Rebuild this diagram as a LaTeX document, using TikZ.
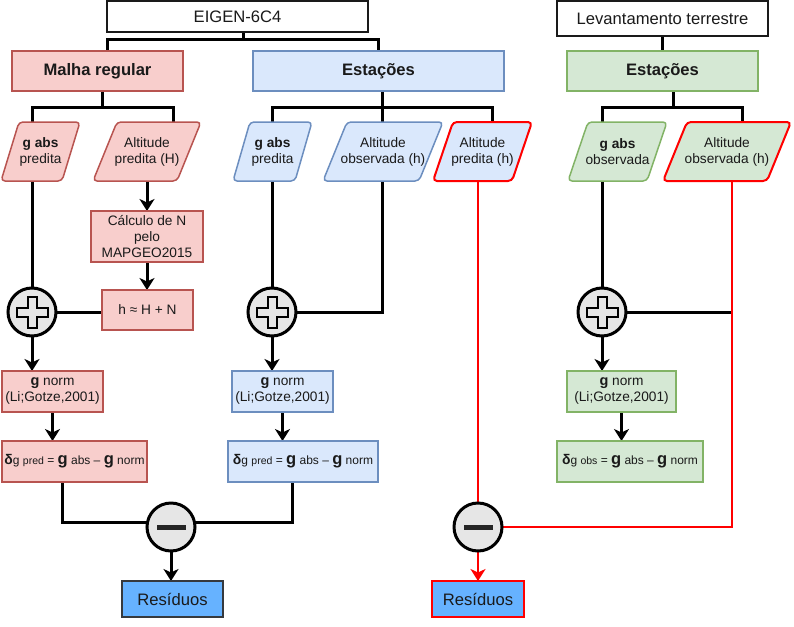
\documentclass[tikz,border=0pt]{standalone}
\usepackage{fontspec}
\setmainfont{Liberation Sans}
\usetikzlibrary{arrows.meta,backgrounds}
\definecolor{pinkF}{HTML}{F8CECC}
\definecolor{pinkD}{HTML}{B85450}
\definecolor{blueF}{HTML}{DAE8FC}
\definecolor{blueD}{HTML}{6C8EBF}
\definecolor{greenF}{HTML}{D5E8D4}
\definecolor{greenD}{HTML}{82B366}
\definecolor{resF}{HTML}{66B2FF}
\definecolor{resD}{HTML}{36393D}
\definecolor{cgray}{HTML}{E6E6E6}
\definecolor{txtc}{HTML}{1A1A1A}
\newcommand{\fsmallx}{\fontsize{13.7}{16}\selectfont}
\newcommand{\fbigx}{\fontsize{16.6}{19}\selectfont}
\newcommand{\deltatext}[1]{{\fontsize{14}{16}\selectfont\bfseries δ}{\fontsize{12}{14}\selectfont g {\fontsize{10.5}{12}\selectfont #1} = {\fontsize{16.5}{18}\selectfont\bfseries g} abs – {\fontsize{16.5}{18}\selectfont\bfseries g} norm}}
\newcommand{\gnormtext}{{\fontsize{14.5}{16}\selectfont\bfseries g} norm\\(Li;Gotze,2001)}
\tikzset{
  basebox/.style={rectangle, inner sep=0pt, outer sep=0pt, align=center, text=txtc},
  topbox/.style={basebox, draw=txtc, line width=2pt, fill=white, font=\fbigx},
  headP/.style={basebox, draw=pinkD, fill=pinkF, line width=1.5pt, font=\fbigx\bfseries},
  headB/.style={basebox, draw=blueD, fill=blueF, line width=1.5pt, font=\fbigx\bfseries},
  headG/.style={basebox, draw=greenD, fill=greenF, line width=1.5pt, font=\fbigx\bfseries},
  boxP/.style={basebox, draw=pinkD, fill=pinkF, line width=1.5pt, font=\fsmallx},
  boxB/.style={basebox, draw=blueD, fill=blueF, line width=1.5pt, font=\fsmallx},
  boxG/.style={basebox, draw=greenD, fill=greenF, line width=1.5pt, font=\fsmallx},
  resbox/.style={basebox, draw=resD, fill=resF, line width=2pt, font=\fbigx, minimum width=101pt, minimum height=36pt},
  paraP/.style={draw=pinkD, fill=pinkF, line width=1.5pt, rounded corners=4pt},
  paraB/.style={draw=blueD, fill=blueF, line width=1.5pt, rounded corners=4pt},
  paraG/.style={draw=greenD, fill=greenF, line width=1.5pt, rounded corners=4pt},
  paraRB/.style={draw=red, fill=blueF, line width=2pt, rounded corners=4pt},
  paraRG/.style={draw=red, fill=greenF, line width=2pt, rounded corners=4pt},
  ptext/.style={basebox, font=\fsmallx},
  circ/.style={circle, draw=black, line width=3pt, fill=cgray, minimum size=48pt, inner sep=0pt, outer sep=0pt},
  bus/.style={line width=3pt, draw=black},
  arr/.style={bus, -{Stealth[length=12pt,width=15pt,inset=3.5pt]}},
  redl/.style={line width=2.5pt, draw=red},
  redarr/.style={redl, -{Stealth[length=12pt,width=15pt,inset=3.5pt]}},
}
\newcommand{\pgram}[4]{\draw[#1] (#2,181) -- (#3,181) -- ({#3+#4},122) -- ({#2+#4},122) -- cycle;}
\newcommand{\plusmark}[1]{\draw[line width=2pt, draw=black, fill=cgray, shift={(#1)}] (-4.5,-15.5) -- (4.5,-15.5) -- (4.5,-4.5) -- (15.5,-4.5) -- (15.5,4.5) -- (4.5,4.5) -- (4.5,15.5) -- (-4.5,15.5) -- (-4.5,4.5) -- (-15.5,4.5) -- (-15.5,-4.5) -- (-4.5,-4.5) -- cycle;}
\newcommand{\minusmark}[1]{\fill[black!85, shift={(#1)}] (-14.5,-2.5) rectangle (14.5,2.5);}
\begin{document}
\begin{tikzpicture}[x=1pt,y=-1pt]
\useasboundingbox (0,0) rectangle (794,626);
% top boxes
\node[topbox, minimum width=261pt, minimum height=31pt] (eigen) at (237.5,16.5) {EIGEN-6C4};
\node[topbox, minimum width=211pt, minimum height=35pt] (lev) at (662.5,18.5) {Levantamento terrestre};
% headers
\node[headP, minimum width=171pt, minimum height=40pt] (malha) at (97.5,71) {Malha regular};
\node[headB, minimum width=251pt, minimum height=40pt] (estB) at (378.5,71) {Estações};
\node[headG, minimum width=191pt, minimum height=40pt] (estG) at (662.5,71) {Estações};
% parallelograms
\pgram{paraP}{1}{62}{18}
\pgram{paraP}{93}{177}{24}
\pgram{paraB}{233}{295}{17}
\pgram{paraB}{323}{419}{24}
\pgram{paraRB}{433}{512}{20}
\pgram{paraG}{568}{647}{20}
\pgram{paraRG}{663}{767}{24}
\node[ptext] (p1) at (40.5,151.5) {\textbf{g abs}\\predita};
\node[ptext] (p2) at (147,151.5) {Altitude\\predita (H)};
\node[ptext] (p3) at (272.5,151.5) {\textbf{g abs}\\predita};
\node[ptext] (p4) at (383,151.5) {Altitude\\observada (h)};
\node[ptext] (p5) at (482.5,151.5) {Altitude\\predita (h)};
\node[ptext] (p6) at (617.5,151.5) {\textbf{g abs}\\observada};
\node[ptext] (p7) at (727,151.5) {Altitude\\observada (h)};
\coordinate (p1t) at (32,122);  \coordinate (p1b) at (32,181);
\coordinate (p2t) at (173,122); \coordinate (p2b) at (147,181);
\coordinate (p3t) at (272,122); \coordinate (p3b) at (272,181);
\coordinate (p4t) at (382,122); \coordinate (p4b) at (382,181);
\coordinate (p5t) at (492,122); \coordinate (p5b) at (478,181);
\coordinate (p6t) at (602,122); \coordinate (p6b) at (602,181);
\coordinate (p7t) at (742,122); \coordinate (p7b) at (732,181);
% process boxes
\node[boxP, minimum width=112pt, minimum height=51pt] (calc) at (147,236.5) {Cálculo de N\\pelo\\MAPGEO2015};
\node[boxP, minimum width=91pt, minimum height=40pt] (hbox) at (147.5,310) {h ≈ H + N};
\node[boxP, minimum width=101pt, minimum height=41pt] (gnP) at (52.5,391.5) {\gnormtext};
\node[boxB, minimum width=101pt, minimum height=41pt] (gnB) at (282.5,391.5) {\gnormtext};
\node[boxG, minimum width=109pt, minimum height=41pt] (gnG) at (621.5,391.5) {\gnormtext};
\node[boxP, minimum width=145pt, minimum height=41pt] (dP) at (74.5,461.5) {\deltatext{pred}};
\node[boxB, minimum width=150pt, minimum height=41pt] (dB) at (303,461.5) {\deltatext{pred}};
\node[boxG, minimum width=146pt, minimum height=41pt] (dG) at (630,461.5) {\deltatext{obs}};
\node[resbox] (res1) at (172.5,599) {Resíduos};
\node[resbox, draw=red, minimum width=92pt] (res2) at (478,599) {Resíduos};
% operator circles
\node[circ] (c1) at (32,312) {};
\node[circ] (c2) at (272,312) {};
\node[circ] (c3) at (602,312) {};
\node[circ] (m1) at (171,527) {};
\node[circ] (m2) at (478,527) {};
\plusmark{c1} \plusmark{c2} \plusmark{c3}
\minusmark{m1} \minusmark{m2}
% connectors
\begin{pgfonlayer}{background}
\coordinate (eb) at (243,40);
\draw[bus] ([xshift=5.5pt]eigen.south) -- (eb);
\draw[bus] (eb) -| ([xshift=9.5pt]malha.north);
\draw[bus] (eb) -| (estB.north);
\coordinate (mb) at (102,107);
\draw[bus] ([xshift=4.5pt]malha.south) -- (mb);
\draw[bus] (mb) -| (p1t);
\draw[bus] (mb) -| (p2t);
\coordinate (bb) at (382,107);
\draw[bus] ([xshift=3.5pt]estB.south) -- (p4t);
\draw[bus] (bb) -| (p3t);
\draw[bus] (bb) -| (p5t);
\draw[bus] (lev.south) -- (estG.north);
\coordinate (gb) at (673,107);
\draw[bus] ([xshift=10.5pt]estG.south) -- (gb);
\draw[bus] (gb) -| (p6t);
\draw[bus] (gb) -| (p7t);
% left column
\draw[bus] (p1b) -- (c1.north);
\draw[arr] (p2b) -- (calc.north);
\draw[arr] (calc.south) -- (calc.south |- hbox.north);
\draw[bus] (c1.east) -- (c1.east -| hbox.west);
\draw[arr] (c1.south) -- (c1.south |- gnP.north);
\draw[arr] (gnP.south) -- (gnP.south |- dP.north);
\draw[bus] ([xshift=-12.5pt]dP.south) |- ([yshift=5pt]m1.west);
% middle column
\draw[bus] (p3b) -- (c2.north);
\draw[bus] (c2.east) -| (p4b);
\draw[arr] (c2.south) -- (c2.south |- gnB.north);
\draw[arr] (gnB.south) -- (gnB.south |- dB.north);
\draw[bus] ([xshift=-11pt]dB.south) |- ([yshift=5pt]m1.east);
\draw[arr] (m1.south) -- (m1.south |- res1.north);
% right column
\draw[bus] (p6b) -- (c3.north);
\draw[bus] (c3.east) -- (c3.east -| p7b);
\draw[arr] (c3.south) -- (c3.south |- gnG.north);
\draw[arr] (gnG.south) -- (gnG.south |- dG.north);
% red path
\draw[redl] (p5b) -- (m2.north);
\draw[redl] (m2.east) -| (p7b);
\draw[redarr] (m2.south) -- (res2.north);
\end{pgfonlayer}
\end{tikzpicture}
\end{document}
